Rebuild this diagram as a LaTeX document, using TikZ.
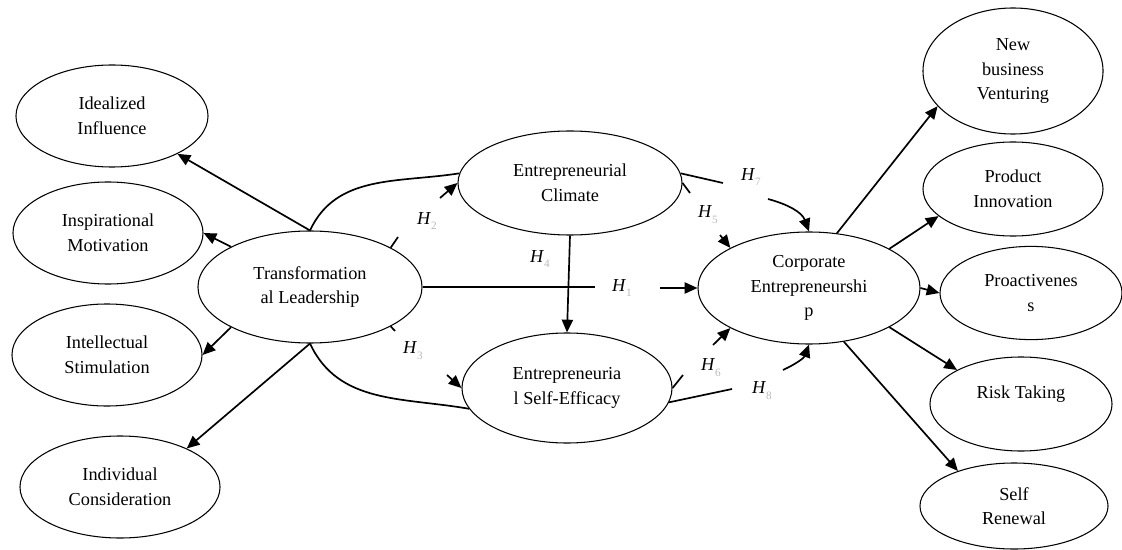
\documentclass[tikz,border=0pt]{standalone}
\usepackage{fontspec}
\setmainfont{Liberation Serif}
\usetikzlibrary{arrows.meta,shapes.geometric}

\newcommand{\hlab}[1]{\textit{H}\raisebox{-0.7ex}{\fontsize{8}{8}\selectfont\color{gray!55}#1}}

\begin{document}
\begin{tikzpicture}
[x=0.025cm,y=0.025cm,>={Triangle[length=3.2mm,width=2.8mm]},line width=1.2pt,font=\fontsize{13}{17.5}\selectfont]
\tikzstyle{con}=[ellipse, draw, line width=0.75pt, inner sep=0pt, align=center]
\tikzstyle{hyp}=[inner sep=0pt, font=\fontsize{13}{13}\selectfont]

\useasboundingbox (0,0) rectangle (1122,-550);

% dimensions of transformational leadership
\node[con, minimum width=4.8cm, minimum height=2.55cm] (dim_ii) at (112,-116) {Idealized\\Influence};
\node[con, minimum width=4.75cm, minimum height=2.55cm] (dim_im) at (108,-233) {Inspirational\\Motivation};
\node[con, minimum width=4.75cm, minimum height=2.55cm] (dim_is) at (107,-355) {Intellectual\\Stimulation};
\node[con, minimum width=5cm, minimum height=2.55cm] (dim_ic) at (120,-487) {Individual\\Consideration};

% main constructs
\node[con, minimum width=5.6cm, minimum height=2.8cm] (con_tl) at (310,-287) {Transformation\\al Leadership};
\node[con, minimum width=5.6cm, minimum height=2.6cm] (con_ec) at (570,-183) {Entrepreneurial\\Climate};
\node[con, minimum width=5.25cm, minimum height=2.75cm] (con_ese) at (567,-388) {Entrepreneuria\\l Self-Efficacy};
\node[con, minimum width=5.55cm, minimum height=2.8cm] (con_ce) at (809,-288) {Corporate\\Entrepreneurshi\\p};

% dimensions of corporate entrepreneurship
\node[con, minimum width=4.5cm, minimum height=3.15cm] (dim_nbv) at (1013,-71) {New\\business\\Venturing};
\node[con, minimum width=4.5cm, minimum height=2.35cm] (dim_pi) at (1013,-189) {Product\\Innovation};
\node[con, minimum width=4.55cm, minimum height=2.33cm] (dim_pa) at (1031,-293) {Proactivenes\\s};
\node[con, minimum width=4.55cm, minimum height=2.35cm] (dim_rt) at (1021,-404) {Risk Taking\\\mbox{}};
\node[con, minimum width=4.7cm, minimum height=2.15cm] (dim_sr) at (1014,-506) {Self\\Renewal};

% hypothesis labels
\node[hyp] (h_1) at (622,-288) {\hlab{1}};
\node[hyp] (h_2) at (427,-221) {\hlab{2}};
\node[hyp] (h_3) at (413,-351) {\hlab{3}};
\node[hyp] (h_4) at (540,-259) {\hlab{4}};
\node[hyp] (h_5) at (708,-215) {\hlab{5}};
\node[hyp] (h_6) at (711,-368) {\hlab{6}};
\node[hyp] (h_7) at (751,-177) {\hlab{7}};
\node[hyp] (h_8) at (762,-391) {\hlab{8}};

% break points of the hypothesis paths
\coordinate (h1_a) at (595,-287);
\coordinate (h1_b) at (660,-288);
\coordinate (h2_a) at (398,-237);
\coordinate (h2_b) at (440,-198);
\coordinate (h3_a) at (395,-331);
\coordinate (h3_b) at (447,-375);
\coordinate (h5_a) at (690,-193);
\coordinate (h5_b) at (720,-235);
\coordinate (h6_a) at (683,-375);
\coordinate (h6_b) at (713,-345);
\coordinate (h7_a) at (723,-183);
\coordinate (h7_b) at (768,-199);
\coordinate (h8_a) at (732,-389);
\coordinate (h8_b) at (783,-370);

\path[->]
			(con_tl.north)	edge (dim_ii)
			(con_tl.153)	edge (dim_im.east)
			(con_tl.207)	edge (dim_is.east)
			(con_tl.south)	edge (dim_ic.30)

			(con_tl.north)	edge [-, out=65, in=189] (con_ec.175)
			(con_tl.south)	edge [-, out=-65, in=170] (con_ese.192)
			(con_tl.26)		edge [-] (h2_a)
			(h2_b)			edge (con_ec.west)
			(con_tl.334)	edge [-] (h3_a)
			(h3_b)			edge (con_ese.west)
			(con_tl.east)	edge [-] (h1_a)
			(h1_b)			edge (con_ce.west)
			(con_ec.south)	edge (con_ese.north)

			(con_ec.east)	edge [-] (h5_a)
			(h5_b)			edge (con_ce.153)
			(con_ec.5)		edge [-] (h7_a)
			(h7_b)			edge [out=-15, in=110] (con_ce.north)
			(con_ese.east)	edge [-] (h6_a)
			(h6_b)			edge (con_ce.207)
			(con_ese.352)	edge [-] (h8_a)
			(h8_b)			edge [out=25, in=-110] (con_ce.south)

			(con_ce.63)		edge (dim_nbv.205)
			(con_ce.26)		edge (dim_pi.200)
			(con_ce.east)	edge (dim_pa.west)
			(con_ce.334)	edge (dim_rt.152)
			(con_ce.303)	edge (dim_sr.148)
			;
\end{tikzpicture}
\end{document}
